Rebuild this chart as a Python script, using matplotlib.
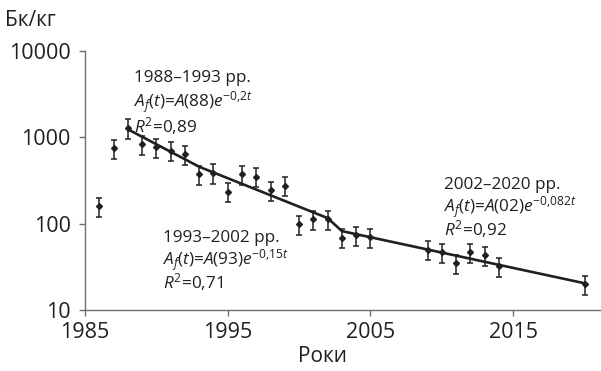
import matplotlib
matplotlib.use("Agg")
import matplotlib.pyplot as plt
import numpy as np

plt.rcParams['font.family'] = ['Open Sans', 'DejaVu Sans']
plt.rcParams['mathtext.fontset'] = 'custom'
plt.rcParams['mathtext.rm'] = 'Open Sans'
plt.rcParams['mathtext.it'] = 'Open Sans:italic'
plt.rcParams['mathtext.bf'] = 'Open Sans:bold'

# Data (Bq/kg)
years = [1986, 1987, 1988, 1989, 1990, 1991, 1992, 1993, 1994, 1995, 1996, 1997,
         1998, 1999, 2000, 2001, 2002, 2003, 2004, 2005, 2009, 2010, 2011, 2012,
         2013, 2014, 2020]
values = [160, 748, 1290, 840, 768, 700, 637, 377, 388, 235, 377, 350,
          245, 276, 99, 112, 112, 69, 74, 70, 50, 47, 35, 47,
          43, 32, 20]
rel_err = 0.25
err = [v * rel_err for v in values]

# Fitted piecewise exponential line (node values)
fit_years = [1988, 1993, 2002, 2003, 2020]
fit_values = [1240, 456, 116, 82, 20.4]

y_ticks = [10, 100, 1000, 10000]
y_ticklabels = ['10', '100', '1000', '10000']
x_ticks = [1985, 1995, 2005, 2015]

ann1 = ['1988–1993 рр.', r'$A_f(t)$=$A$(88)$e^{-0{,}2t}$', r'$R^2$=0,89']
ann2 = ['1993–2002 рр.', r'$A_f(t)$=$A$(93)$e^{-0{,}15t}$', r'$R^2$=0,71']
ann3 = ['2002–2020 рр.', r'$A_f(t)$=$A$(02)$e^{-0{,}082t}$', r'$R^2$=0,92']

W, H = 601, 371
fig = plt.figure(figsize=(W / 100, H / 100), dpi=100)
ax = fig.add_axes([85 / W, 1 - 310 / H, (W - 85) / W, (310 - 51) / H])

dark = '#231f20'
gray = '#6d6e71'

ax.errorbar(years, values, yerr=err, fmt='D', ms=3.0, color=dark, ecolor=dark,
            elinewidth=1.1, capsize=2.4, capthick=1.1, zorder=3)
ax.plot(fit_years, fit_values, color=dark, lw=1.9, zorder=4, solid_capstyle='round')

ax.set_yscale('log')
ax.set_ylim(10, 10000)
ax.set_xlim(1985, 2021.15)
ax.set_yticks(y_ticks)
ax.set_yticklabels(y_ticklabels)
ax.yaxis.set_minor_locator(matplotlib.ticker.NullLocator())
ax.set_xticks(x_ticks)
ax.set_xticklabels([str(x) for x in x_ticks])

for s in ['top', 'right']:
    ax.spines[s].set_visible(False)
for s in ['left', 'bottom']:
    ax.spines[s].set_color(gray)
    ax.spines[s].set_linewidth(1.0)
ax.tick_params(axis='both', which='major', direction='out', length=4.3, width=1.0,
               color=gray, labelcolor=dark, labelsize=15.5)
ax.tick_params(axis='y', pad=6)
ax.tick_params(axis='x', pad=4)

fig.text(5 / W, 1 - 20 / H, 'Бк/кг', fontsize=15, color=dark, va='center', ha='left')
fig.text(323 / W, 1 - 357 / H, 'Роки', fontsize=15, color=dark, va='center', ha='center')

def annotate(lines, x, ys, fs=12.3):
    for t, y in zip(lines, ys):
        fig.text(x / W, 1 - y / H, t, fontsize=fs, color=dark, va='center', ha='left')

annotate(ann1, 134, [78, 102, 126])
annotate(ann2, 163, [238, 260, 282])
annotate(ann3, 444, [185, 207, 229])

fig.savefig('out.png', dpi=100)
